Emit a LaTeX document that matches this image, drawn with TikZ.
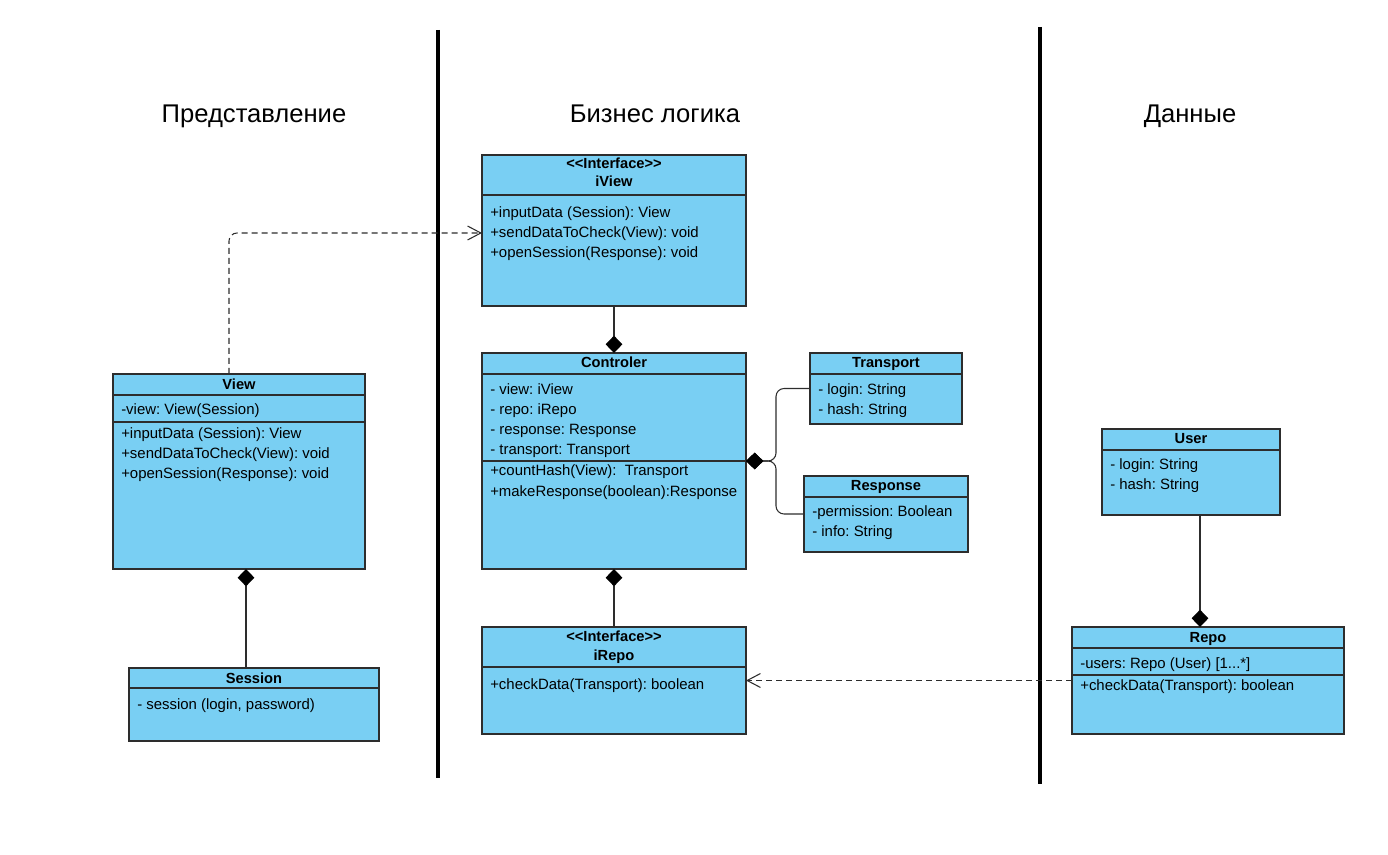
\documentclass[tikz,border=0pt]{standalone}
\usepackage{fontspec}
\setmainfont{Liberation Sans}
\usetikzlibrary{arrows.meta,fit}
\frenchspacing
\definecolor{clsfill}{RGB}{121,207,243}
\definecolor{bord}{RGB}{45,45,45}
\tikzset{
  cls/.style={draw=bord, fill=clsfill, line width=0.9pt, inner sep=0pt, outer sep=0pt},
  sepl/.style={draw=bord, line width=0.9pt},
  hdr/.style={font=\frenchspacing\bfseries\fontsize{11}{12}\selectfont, inner sep=0pt, anchor=base},
  txt/.style={font=\frenchspacing\fontsize{11.2}{12}\selectfont, inner sep=0pt, anchor=base west},
  head/.style={font=\fontsize{19.2}{22}\selectfont, inner sep=0pt, anchor=base},
  comp/.style={draw=bord, line width=0.8pt, {Diamond[length=13pt,width=12.5pt,fill=black,color=black]}-},
  dep/.style={draw=bord, line width=0.8pt, dash pattern=on 4.5pt off 3pt, -{Straight Barb[length=10pt,width=10.5pt,line width=0.8pt]}},
  layer/.style={line width=3.6pt, black}
}
\begin{document}
\begin{tikzpicture}[x=0.75pt,y=-0.75pt]
\useasboundingbox (0,0) rectangle (1388,855);
% layer separators
\draw[layer] (438,30) -- (438,778);
\draw[layer] (1040,27) -- (1040,784);
% headings
\node[head] (h1) at (254,123) {Представление};
\node[head] (h2) at (655,123) {Бизнес логика};
\node[head] (h3) at (1190,123) {Данные};

% iView
\node[cls, fit={(482,155) (746,306)}] (iview) {};
\draw[sepl] (482,195) -- (746,195);
\node[hdr] (iview-s) at (614,169) {{<}{<}Interface{>}{>}};
\node[hdr] (iview-t) at (614,187) {iView};
\node[txt] (iview-1) at (490,217.5) {+inputData (Session): View};
\node[txt] (iview-2) at (490,237.5) {+sendDataToCheck(View): void};
\node[txt] (iview-3) at (490,257.5) {+openSession(Response): void};

% Controler
\node[cls, fit={(482,353) (746,569)}] (ctrl) {};
\draw[sepl] (482,374) -- (746,374);
\draw[sepl] (482,461) -- (746,461);
\node[hdr] (ctrl-t) at (614,368) {Controler};
\node[txt] (ctrl-1) at (490,394.5) {- view: iView};
\node[txt] (ctrl-2) at (490,414.5) {- repo: iRepo};
\node[txt] (ctrl-3) at (490,434.5) {- response: Response};
\node[txt] (ctrl-4) at (490,454.5) {- transport: Transport};
\node[txt] (ctrl-5) at (490,475.5) {+countHash(View):\ \ Transport};
\node[txt] (ctrl-6) at (490,496.5) {+makeResponse(boolean):Response};

% Transport
\node[cls, fit={(810,353) (962,424)}] (trans) {};
\draw[sepl] (810,374) -- (962,374);
\node[hdr] (trans-t) at (886,368) {Transport};
\node[txt] (trans-1) at (818,394.5) {- login: String};
\node[txt] (trans-2) at (818,414.5) {- hash: String};

% Response
\node[cls, fit={(804,476) (968,552)}] (resp) {};
\draw[sepl] (804,497) -- (968,497);
\node[hdr] (resp-t) at (886,490) {Response};
\node[txt] (resp-1) at (812,516.5) {-permission: Boolean};
\node[txt] (resp-2) at (812,536.5) {- info: String};

% View
\node[cls, fit={(113,374) (365,569)}] (view) {};
\draw[sepl] (113,395) -- (365,395);
\draw[sepl] (113,422) -- (365,422);
\node[hdr] (view-t) at (239,389) {View};
\node[txt] (view-1) at (121,414.5) {-view: View(Session)};
\node[txt] (view-2) at (121,438.5) {+inputData (Session): View};
\node[txt] (view-3) at (121,458.5) {+sendDataToCheck(View): void};
\node[txt] (view-4) at (121,478.5) {+openSession(Response): void};

% Session
\node[cls, fit={(129,668) (379,741)}] (sess) {};
\draw[sepl] (129,688) -- (379,688);
\node[hdr] (sess-t) at (254,683) {Session};
\node[txt] (sess-1) at (137,709.5) {- session (login, password)};

% iRepo
\node[cls, fit={(482,627) (746,734)}] (irepo) {};
\draw[sepl] (482,667) -- (746,667);
\node[hdr] (irepo-s) at (614,641) {{<}{<}Interface{>}{>}};
\node[hdr] (irepo-t) at (614,660) {iRepo};
\node[txt] (irepo-1) at (490,689.5) {+checkData(Transport): boolean};

% User
\node[cls, fit={(1102,429) (1280,515)}] (user) {};
\draw[sepl] (1102,450) -- (1280,450);
\node[hdr] (user-t) at (1191,443.5) {User};
\node[txt] (user-1) at (1110,469.5) {- login: String};
\node[txt] (user-2) at (1110,489.5) {- hash: String};

% Repo
\node[cls, fit={(1072,627) (1344,734)}] (repo) {};
\draw[sepl] (1072,648) -- (1344,648);
\draw[sepl] (1072,675) -- (1344,675);
\node[hdr] (repo-t) at (1208,642.5) {Repo};
\node[txt] (repo-1) at (1080,668.5) {-users: Repo (User) [1...*]};
\node[txt] (repo-2) at (1080,690) {+checkData(Transport): boolean};

% connectors
\draw[comp] (ctrl.north) -- (iview.south);
\draw[comp] (ctrl.south) -- (irepo.north);
\draw[comp] (view.south -| 246,0) -- (sess.north -| 246,0);
\draw[comp] (repo.north -| 1200,0) -- (user.south -| 1200,0);
\draw[comp, rounded corners=6pt] (ctrl.east) -- ++(30,0) |- (trans.west);
\draw[comp, rounded corners=6pt] (ctrl.east) -- ++(30,0) |- (resp.west);
\draw[dep, rounded corners=6pt] (view.north -| 229,0) |- (iview.west |- 0,233);
\draw[dep] (repo.west) -- (irepo.east);
\end{tikzpicture}
\end{document}
